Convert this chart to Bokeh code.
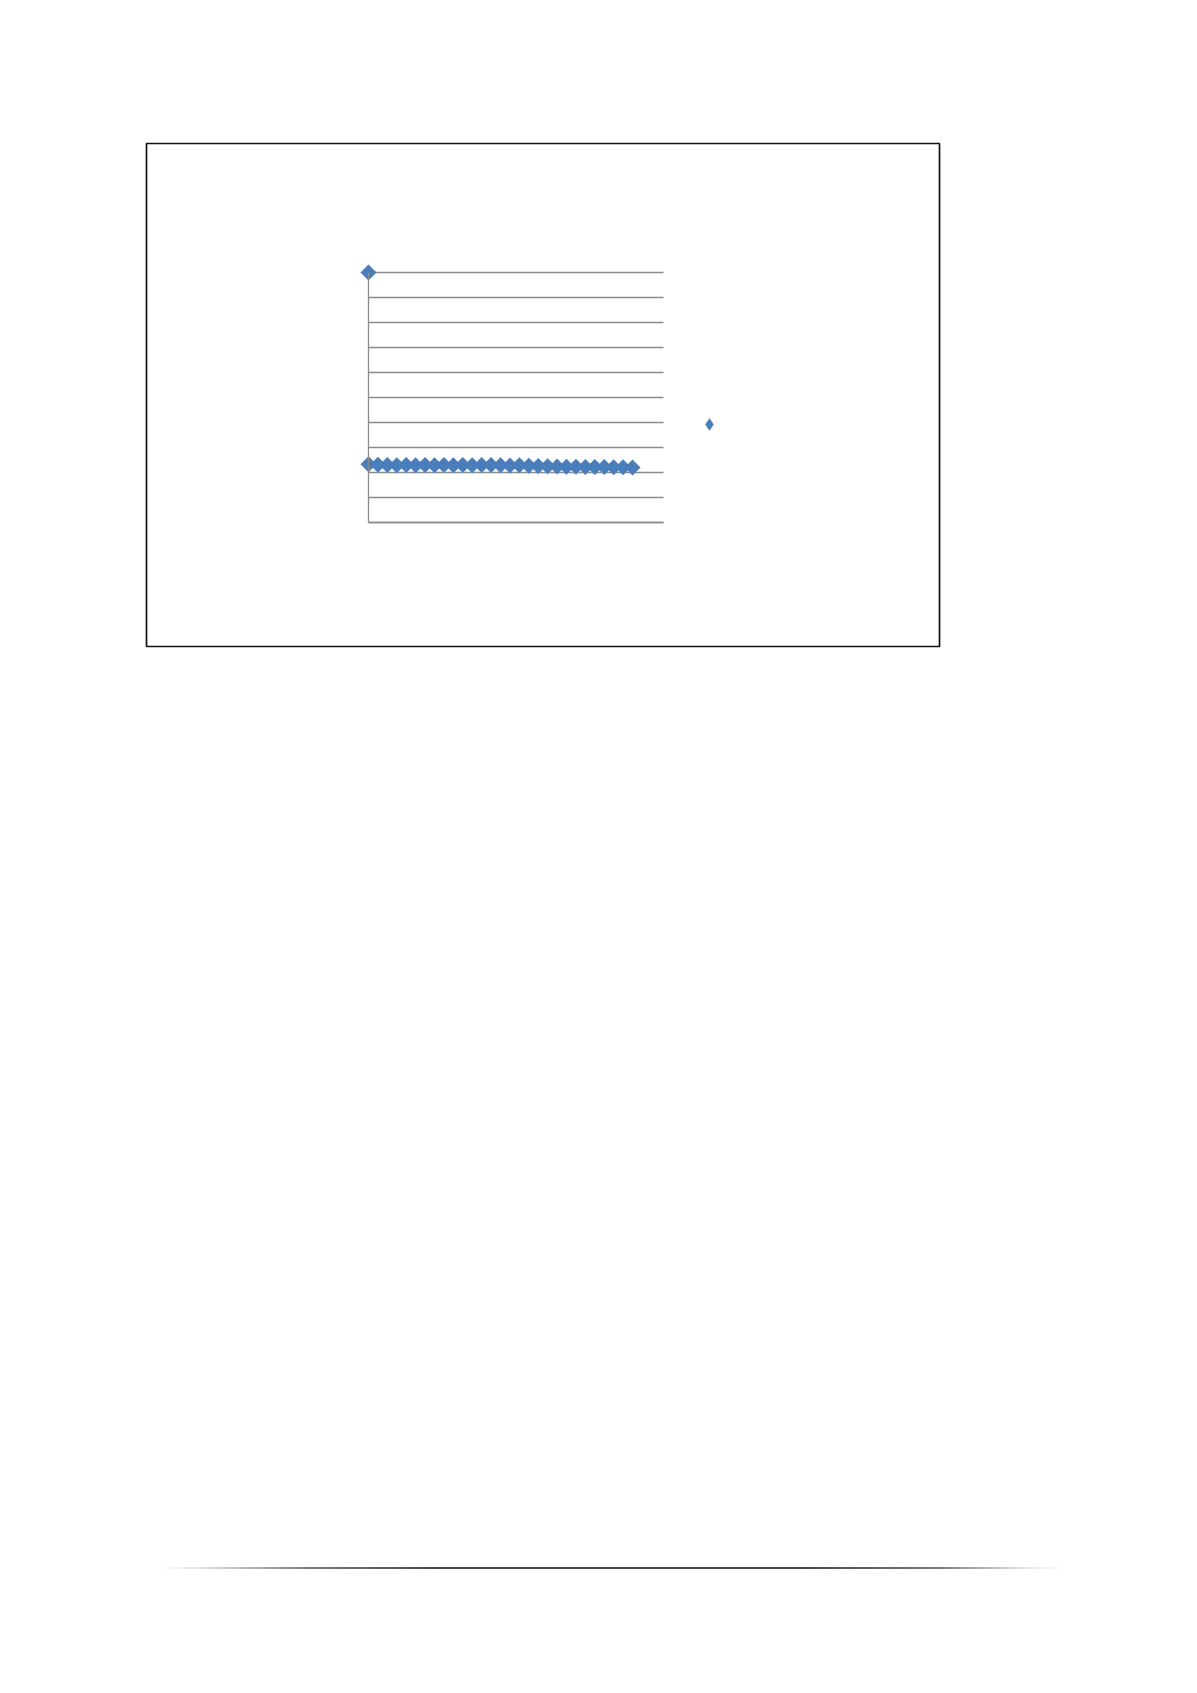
import numpy as np
from bokeh.plotting import figure
from bokeh.models import (Range1d, LinearAxis, FixedTicker, Grid, Legend, LegendItem,
                          ColumnDataSource, CDSView, IndexFilter, Spacer, Div)
from bokeh.layouts import column, row
from bokeh.embed import file_html
from bokeh.resources import INLINE

# ---- data ----
x_vals = [0, 0, 1, 2, 3, 4, 5, 6, 7, 8, 9, 10, 11, 12, 13, 14, 15, 16, 17, 18, 19,
          20, 21, 22, 23, 24, 25, 26, 27, 28]
y_vals = [10.0, 2.33, 2.31, 2.30, 2.29, 2.30, 2.29, 2.30, 2.29, 2.30, 2.29, 2.30,
          2.29, 2.30, 2.30, 2.29, 2.28, 2.29, 2.27, 2.26, 2.25, 2.24, 2.23, 2.23,
          2.22, 2.22, 2.22, 2.21, 2.21, 2.20]
y_ticks = [0, 1, 2, 3, 4, 5, 6, 7, 8, 9, 10]
series_label = " "

X_AXIS_END = 31.29
BLUE = "#4a7ebb"
GRID = "#8c8c8c"

src = ColumnDataSource(data=dict(x=x_vals, y=y_vals))

# frame = chart-area box (793 x 503); inner plot area positioned via ranges
p = figure(width=797, height=507,
           x_range=Range1d(-23.545, 60.56), y_range=Range1d(-4.96, 15.16),
           x_axis_type=None, y_axis_type=None,
           toolbar_location=None, output_backend="svg",
           min_border=2, min_border_left=2, min_border_right=2,
           min_border_top=2, min_border_bottom=2,
           outline_line_color="#111111", outline_line_width=1.7,
           background_fill_color="white", border_fill_color="white")

ygrid = Grid(dimension=1, ticker=FixedTicker(ticks=y_ticks), cross_bounds=(0, X_AXIS_END),
             grid_line_color=GRID, grid_line_width=1.3)
p.add_layout(ygrid)

axis_style = dict(axis_line_color=GRID, axis_line_width=1.3,
                  major_tick_line_color=None, minor_tick_line_color=None,
                  major_tick_out=0, major_tick_in=0, minor_tick_out=0, minor_tick_in=0,
                  major_label_standoff=0)
yaxis = LinearAxis(fixed_location=0, ticker=FixedTicker(ticks=[]), bounds=(0, 10), **axis_style)
p.add_layout(yaxis, "left")
xaxis = LinearAxis(fixed_location=0, ticker=FixedTicker(ticks=[]), bounds=(0, X_AXIS_END), **axis_style)
p.add_layout(xaxis, "below")

# legend-swatch renderer: a diamond drawn under the first point (hidden by it)
r_leg = p.scatter("x", "y", source=src, view=CDSView(filter=IndexFilter(indices=[0])),
                  marker="diamond", size=8, fill_color=BLUE, line_color=BLUE, line_width=0.5)

r = p.scatter("x", "y", source=src, marker="square", angle=np.pi / 4, size=11,
              fill_color=BLUE, line_color=BLUE, line_width=0.5)

legend = Legend(items=[LegendItem(label=series_label, renderers=[r_leg])],
                location=(548, 207), padding=0, margin=0, spacing=0,
                glyph_width=30, glyph_height=30, label_standoff=0,
                label_text_font_size="10px", border_line_color=None,
                background_fill_alpha=0)
p.add_layout(legend)

line_div = Div(width=910, height=2, styles={
    "background": "linear-gradient(to right, rgba(210,210,210,0) 0%, #e2e2e2 5%, #7a7a7a 17%, #454545 32%, #454545 70%, #7a7a7a 86%, #e2e2e2 95%, rgba(210,210,210,0) 100%)"
})

layout = column(
    Spacer(height=141),
    row(Spacer(width=144), p),
    Spacer(height=914),
    row(Spacer(width=151), line_div),
)

open("out.html", "w").write(file_html(layout, INLINE))
